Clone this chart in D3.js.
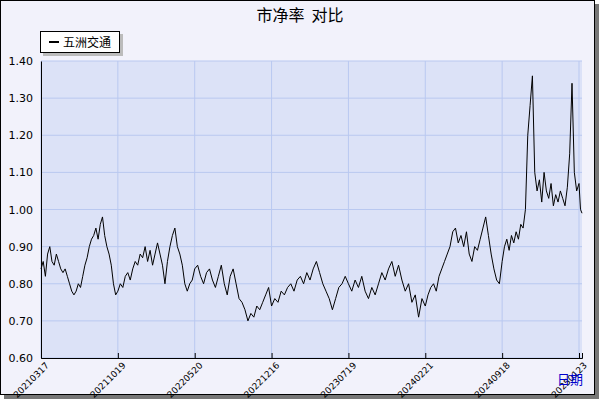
<!DOCTYPE html><html><head><meta charset="utf-8"><script src="https://cdn.jsdelivr.net/npm/d3@7"></script>
<style>body{margin:0;background:#fff}</style></head><body><svg id="c" width="600" height="400"></svg><script>
const seriesName="五洲交通";
const values=[0.84,0.86,0.82,0.88,0.90,0.86,0.85,0.88,0.86,0.84,0.83,0.84,0.82,0.80,0.78,0.77,0.78,0.80,0.79,0.82,0.85,0.87,0.90,0.92,0.93,0.95,0.92,0.96,0.98,0.93,0.90,0.88,0.85,0.80,0.77,
0.78,0.80,0.79,0.82,0.83,0.81,0.84,0.86,0.85,0.88,0.87,0.90,0.86,0.89,0.85,0.88,0.91,0.88,0.85,0.80,0.86,0.90,0.93,0.95,0.90,0.88,0.85,0.80,0.78,0.80,0.81,
0.84,0.85,0.82,0.80,0.83,0.84,0.81,0.79,0.82,0.85,0.80,0.77,0.82,0.84,0.80,0.76,0.75,0.73,0.70,0.72,0.71,0.74,0.73,0.75,0.77,0.79,
0.74,0.76,0.75,0.78,0.77,0.79,0.80,0.78,0.81,0.82,0.80,0.83,0.81,0.84,0.86,0.83,0.80,0.78,0.76,0.73,0.76,0.79,0.80,0.82,
0.80,0.78,0.81,0.79,0.82,0.78,0.76,0.79,0.77,0.80,0.83,0.81,0.84,0.86,0.82,0.85,0.81,0.78,0.80,0.75,0.77,0.71,0.76,
0.74,0.77,0.79,0.80,0.78,0.82,0.84,0.86,0.88,0.90,0.94,0.95,0.91,0.93,0.90,0.94,0.88,0.86,0.90,0.89,0.92,0.95,0.98,0.93,0.88,0.84,0.81,0.80,
0.86,0.90,0.92,0.89,0.93,0.91,0.94,0.92,0.96,0.95,1.00,1.20,1.28,1.36,1.10,1.05,1.08,1.02,1.10,1.05,1.03,1.07,1.01,1.04,1.02,1.05,1.03,1.01,1.06,1.15,1.34,1.10,1.05,1.07,1.00,0.99];
const tickDates=["20210317","20211019","20220520","20221216","20230719","20240221","20240918","20250123"];
const tickIndex=[0,35,66,92,116,139,167,200];
const yTicks=[0.60,0.70,0.80,0.90,1.00,1.10,1.20,1.30,1.40];
const svg=d3.select("#c");
svg.append("rect").attr("x",4).attr("y",4).attr("width",595).attr("height",395).attr("fill","#777");
svg.append("rect").attr("x",0.5).attr("y",0.5).attr("width",594).attr("height",394).attr("fill","#f2f2fb").attr("stroke","#000");
const L=41,R=582,T=61,B=358,lastTick=579;
const N=values.length;
const step=(lastTick-L)/7;
const x=d3.scaleLinear().domain([...tickIndex,N-1]).range([...tickIndex.map((d,i)=>L+i*step),R]);
const y=d3.scaleLinear().domain([0.6,1.4]).range([B,T]);
svg.append("rect").attr("x",L).attr("y",T).attr("width",R-L).attr("height",B-T).attr("fill","#dce2f7");
const g=svg.append("g");
tickIndex.forEach(i=>g.append("line").attr("x1",x(i)).attr("x2",x(i)).attr("y1",T).attr("y2",B).attr("stroke","#b9c8f0"));
yTicks.forEach(v=>g.append("line").attr("x1",L).attr("x2",R).attr("y1",y(v)).attr("y2",y(v)).attr("stroke","#b9c8f0"));
svg.append("path").attr("d",d3.line().x((d,i)=>x(i)).y(d=>y(d))(values)).attr("fill","none").attr("stroke","#000").attr("stroke-width",1);
const ya=svg.append("g").attr("transform",`translate(${L},0)`).call(d3.axisLeft(y).tickValues(yTicks).tickFormat(d3.format(".2f")).tickSize(0).tickPadding(8));
ya.select(".domain").attr("stroke","#000");
ya.selectAll("text").attr("font-family","DejaVu Sans").attr("font-size",11).attr("fill","#000");
const xa=svg.append("g").attr("transform",`translate(0,${B})`).call(d3.axisBottom(x).tickValues(tickIndex).tickSize(-5).tickFormat((d,i)=>tickDates[i]));
xa.select(".domain").attr("stroke","#000");
xa.selectAll("line").attr("stroke","#000");
xa.selectAll("text").attr("font-family","DejaVu Sans").attr("font-size",9).attr("fill","#000").attr("text-anchor","end").attr("transform","translate(4,4) rotate(-45)").attr("dy","0.3em");
svg.append("text").attr("x",557).attr("y",384).attr("font-size",13).attr("fill","#0000cc").attr("font-family","Noto Sans CJK SC").text("日期");
svg.append("text").attr("x",300).attr("y",21).attr("text-anchor","middle").attr("font-size",16).attr("font-family","Noto Sans CJK SC").attr("xml:space","preserve").style("white-space","pre").text("市净率  对比");
svg.append("rect").attr("x",43).attr("y",34).attr("width",80).attr("height",22).attr("fill","#bbb");
svg.append("rect").attr("x",40.5).attr("y",31.5).attr("width",79).attr("height",21).attr("fill","#fff").attr("stroke","#000");
svg.append("line").attr("x1",49).attr("x2",59).attr("y1",42).attr("y2",42).attr("stroke","#000").attr("stroke-width",2);
svg.append("text").attr("x",63).attr("y",47).attr("font-size",12).attr("font-family","Noto Sans CJK SC").text(seriesName);
</script></body></html>
